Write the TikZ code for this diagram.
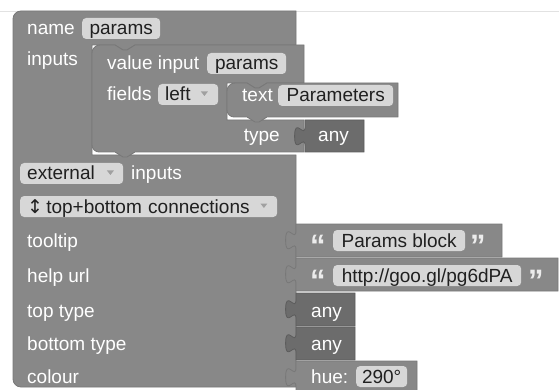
\documentclass[tikz,border=0pt]{standalone}
\usepackage{fontspec}
\setmainfont{Liberation Sans}
\newfontfamily\dejavu{DejaVu Sans}
\definecolor{mainc}{HTML}{888888}
\definecolor{edgec}{HTML}{787878}
\definecolor{anyc}{HTML}{6C6C6C}
\definecolor{anyedge}{HTML}{5C5C5C}
\definecolor{pillc}{HTML}{D7D7D7}
\definecolor{pilltext}{HTML}{202020}
\definecolor{arrowc}{HTML}{A0A0A0}
\definecolor{quotec}{HTML}{ECECEC}
\definecolor{topline}{HTML}{E2E2E2}
\tikzset{
  lbl/.style={text=white, inner sep=0pt, anchor=base west, font=\fontsize{19}{22}\selectfont},
  pill/.style={fill=pillc, rounded corners=4pt, text=pilltext, inner xsep=5pt, inner ysep=4pt,
    text height=13pt, text depth=0pt, anchor=base west, font=\fontsize{19}{22}\selectfont},
  ddpill/.style={pill, inner xsep=7pt, align=left},
  blk/.style={fill=mainc, draw=edgec, line width=0.8pt},
  anyblk/.style={fill=anyc, draw=anyedge, line width=0.8pt},
  ddarrow/.style={fill=arrowc},
  quote/.style={text=quotec, inner sep=0pt, anchor=base west, font=\fontsize{31}{31}\selectfont\bfseries},
}
\newcommand\vblk[5]{\path[#5] (#1,#2) -- (#3,#2) -- (#3,#4) -- (#1,#4) -- (#1,#2+26)
  .. controls (#1,#2+13) and (#1-10.4,#2+36.4) .. (#1-10.4,#2+16.25)
  .. controls (#1-10.4,#2-3.9) and (#1,#2+19.5) .. (#1,#2+6.5) -- cycle;}
\begin{document}
\begin{tikzpicture}[x=1pt,y=-1pt]
\clip (0,0) rectangle (559,390);
\fill[white] (0,0) rectangle (559,390);
\draw[topline, line width=0.8pt] (0,11) -- (559,11);

% main factory block
\path[blk] (13,19) arc[start angle=180, end angle=270, radius=8] -- (296,11) -- (296,45)
  -- (135,45) -- (127,50) -- (123,50) -- (115,45) -- (92,45) -- (92,155) -- (296,155)
  -- (296,387) -- (21,387) arc[start angle=90, end angle=180, radius=8] -- cycle;

% inner value-input block
\path[blk] (92,53) arc[start angle=180, end angle=270, radius=8] -- (115,45) -- (123,50)
  -- (127,50) -- (135,45) -- (304,45) -- (304,83) -- (267,83) -- (259,88) -- (255,88)
  -- (247,83) -- (227,83) -- (227,120) -- (304,120) -- (304,152) -- (135,152) -- (127,157)
  -- (123,157) -- (115,152) -- (99,152) arc[start angle=90, end angle=180, radius=7] -- cycle;

% text block
\path[blk] (227,91) arc[start angle=180, end angle=270, radius=8] -- (247,83) -- (255,88)
  -- (259,88) -- (267,83) -- (398,83) -- (398,117) -- (267,117) -- (259,122) -- (255,122)
  -- (247,117) -- (234,117) arc[start angle=90, end angle=180, radius=7] -- cycle;

% value blocks
\vblk{305}{120}{364}{152}{anyblk}
\vblk{296}{224}{502}{257}{blk}
\vblk{296}{258}{558}{291}{blk}
\vblk{296}{293}{355}{326}{anyblk}
\vblk{296}{327}{355}{360}{anyblk}
\vblk{296}{361}{417}{396}{blk}

% main block texts
\node[lbl] (lname) at (27,35) {name};
\node[pill, minimum width=78pt] (pname) at (82,35) {params};
\node[lbl] (linputs) at (27,66) {inputs};

% inner block texts
\node[lbl] (lvalue) at (107,70) {value input};
\node[pill, minimum width=79pt] (pvalue) at (207,70) {params};
\node[lbl] (lfields) at (107,101) {fields};
\node[ddpill, text width=46pt] (pleft) at (158,101) {left};
\fill[ddarrow] ([xshift=-17.5pt]pleft.base east) ++(0,-9.5) -- ++(7,0) -- ++(-3.5,4.5) -- cycle;
\node[lbl] (ltext) at (242,102) {text};
\node[pill, minimum width=115pt] (pparam) at (278,102) {Parameters};
\node[lbl, anchor=base east] (ltype) at (280,142) {type};
\node[lbl] (lany1) at (318,142) {any};

% main block lower rows
\node[ddpill, text width=89pt] (pext) at (20,180) {external};
\fill[ddarrow] ([xshift=-16.5pt]pext.base east) ++(0,-9.5) -- ++(7,0) -- ++(-3.5,4.5) -- cycle;
\node[lbl] (linputs2) at (131,180) {inputs};
\node[ddpill, text width=243pt] (pconn) at (20,213) {{\dejavu ↕}\,top+bottom connections};
\fill[ddarrow] ([xshift=-17pt]pconn.base east) ++(0,-9.5) -- ++(7,0) -- ++(-3.5,4.5) -- cycle;

\node[lbl] (ltip) at (27,247) {tooltip};
\node[lbl] (lhelp) at (27,282) {help url};
\node[lbl] (ltop) at (27,317) {top type};
\node[lbl] (lbottom) at (27,350) {bottom type};
\node[lbl] (lcolour) at (27,383) {colour};

% attached value blocks
\node[quote] (q1o) at (310,256) {“};
\node[pill, minimum width=132pt] (ptip) at (333,247) {Params block};
\node[quote] (q1c) at (470,256) {”};
\node[quote] (q2o) at (310,291) {“};
\node[pill, minimum width=188pt] (purl) at (333,282) {http://goo.gl/pg6dPA};
\node[quote] (q2c) at (528,291) {”};
\node[lbl] (lany2) at (311,317) {any};
\node[lbl] (lany3) at (311,350) {any};
\node[lbl] (lhue) at (311,383) {hue:};
\node[pill, minimum width=51pt] (phue) at (356,383) {290°};
\end{tikzpicture}
\end{document}
